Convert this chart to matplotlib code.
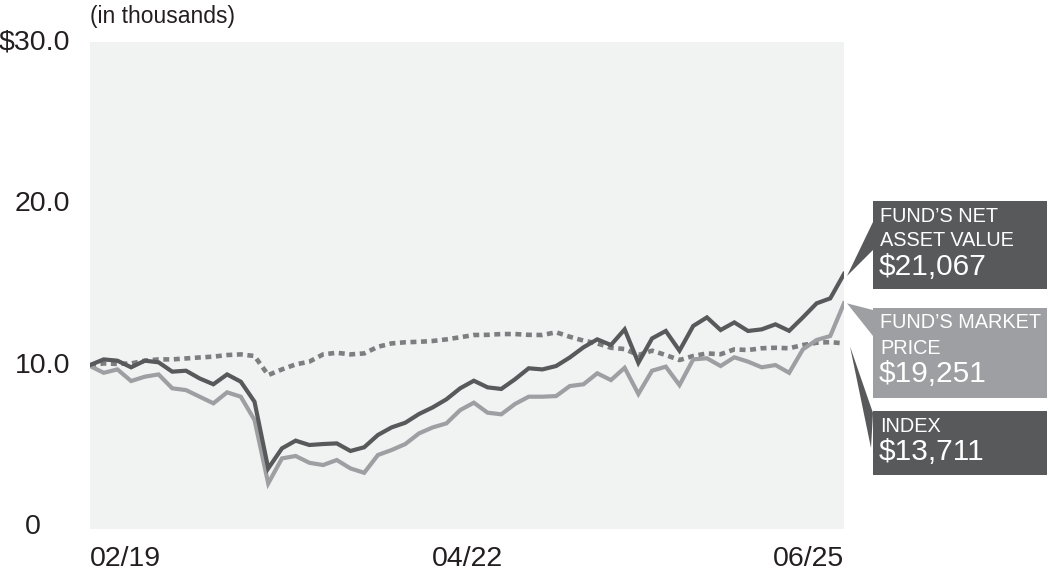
import matplotlib
matplotlib.use("Agg")
import matplotlib.pyplot as plt
from matplotlib.patches import Rectangle, Polygon

# 数据 (in thousands)
nav = [10.03, 10.38, 10.3, 9.89, 10.3, 10.2, 9.62, 9.68, 9.2, 8.84, 9.45, 9.0, 7.76, 3.63,
       4.87, 5.35, 5.08, 5.14, 5.18, 4.71, 4.94, 5.7, 6.17, 6.46, 7.0, 7.41, 7.91, 8.59,
       9.06, 8.65, 8.55, 9.15, 9.83, 9.76, 9.97, 10.5, 11.13, 11.62, 11.27, 12.24, 10.17, 11.68,
       12.14, 10.92, 12.45, 12.98, 12.2, 12.67, 12.14, 12.24, 12.55, 12.15, 12.98, 13.85, 14.16, 15.67]
market = [9.97, 9.55, 9.76, 9.04, 9.31, 9.45, 8.59, 8.48, 8.07, 7.66, 8.34, 8.07, 6.63, 2.7,
          4.25, 4.4, 3.98, 3.84, 4.15, 3.63, 3.36, 4.46, 4.77, 5.14, 5.8, 6.17, 6.42, 7.24,
          7.7, 7.08, 6.98, 7.62, 8.07, 8.07, 8.11, 8.73, 8.84, 9.52, 9.1, 9.86, 8.24, 9.68,
          9.93, 8.79, 10.38, 10.45, 9.97, 10.51, 10.24, 9.89, 10.03, 9.55, 11.0, 11.58, 11.83, 13.85]
index = [10.0, 10.13, 10.1, 10.13, 10.3, 10.38, 10.38, 10.44, 10.5, 10.55, 10.65, 10.69, 10.59, 9.41,
         9.76, 10.07, 10.24, 10.69, 10.79, 10.69, 10.75, 11.16, 11.37, 11.44, 11.47, 11.52, 11.62, 11.75,
         11.89, 11.9, 11.95, 11.95, 11.9, 11.89, 12.06, 11.78, 11.54, 11.37, 11.1, 11.02, 10.65, 10.92,
         10.65, 10.34, 10.59, 10.75, 10.7, 11.0, 10.96, 11.07, 11.1, 11.07, 11.27, 11.41, 11.45, 11.37]

x_labels = ["02/19", "04/22", "06/25"]
y_ticks = [0, 10, 20, 30]
y_labels = ["0", "10.0", "20.0", "$30.0"]

box_titles = [["FUND\u2019S NET", "ASSET VALUE"], ["FUND\u2019S MARKET", "PRICE"], ["INDEX"]]
box_values = ["$21,067", "$19,251", "$13,711"]

DARK = "#58595b"
LIGHT = "#9d9fa2"
DOT = "#7d7e80"
BG = "#f1f2f2"
TXT = "#231f20"

plt.rcParams['font.family'] = ['Liberation Sans', 'DejaVu Sans']

W, H = 1049, 585
fig = plt.figure(figsize=(W / 100, H / 100), dpi=100)
ax = fig.add_axes([90 / W, 1 - 529 / H, (844 - 90) / W, (529 - 42) / H])
ax.set_facecolor(BG)
for s in ax.spines.values():
    s.set_visible(False)

xs = list(range(len(nav)))
ax.plot(xs, index, color=DOT, lw=3.3, linestyle=(0, (1.3, 1.0)), dash_capstyle='butt', zorder=2)
ax.plot(xs, market, color=LIGHT, lw=3.0, solid_joinstyle='miter', zorder=3)
ax.plot(xs, nav, color=DARK, lw=3.0, solid_joinstyle='miter', zorder=4)

ax.set_xlim(0, len(nav) - 1)
ax.set_ylim(-0.12, 30.03)
ax.tick_params(length=0)
ax.set_yticks([])
mid = (len(nav) - 1) / 2
ax.set_xticks([0, mid, len(nav) - 1])
ax.set_xticklabels(x_labels, fontsize=20.5, color=TXT)
for lab, ha in zip(ax.get_xticklabels(), ["left", "center", "right"]):
    lab.set_ha(ha)
ax.tick_params(axis='x', pad=12)

# y 轴标签 (手动放置)
ytr = ax.get_yaxis_transform()
for v, t in zip(y_ticks, y_labels):
    if t == "0":
        ax.text(-0.0756, v, t, transform=ytr, ha='center', va='center', fontsize=20.5, color=TXT)
    else:
        ax.text(-0.0265, v, t, transform=ytr, ha='right', va='center', fontsize=20.5, color=TXT)

fig.text(90 / W, 1 - 17 / H, "(in thousands)", ha='left', va='center', fontsize=16.5, color=TXT)

# 右侧标签框
ov = fig.add_axes([0, 0, 1, 1], zorder=5)
ov.set_xlim(0, W)
ov.set_ylim(H, 0)
ov.axis('off')
ov.patch.set_alpha(0)

fig.canvas.draw()
ends = []
for ser in (nav, market, index):
    px, py = ax.transData.transform((len(ser) - 1, ser[-1]))
    ends.append((px, H - py))

boxes = [(201, 289, DARK), (308, 398, LIGHT), (411, 475, DARK)]
wedges = [((3, 2), (873, 222), (873, 250)),
          ((3, 0), (873, 310), (873, 336)),
          ((6, 3), (873, 413), (871, 448))]
for (top, bot, col) in boxes:
    ov.add_patch(Rectangle((873, top), 1047 - 873, bot - top, color=col, lw=0))
for i, (off, p1, p2) in enumerate(wedges):
    ex, ey = ends[i]
    ov.add_patch(Polygon([(ex + off[0], ey + off[1]), p1, p2], closed=True,
                         color=boxes[i][2], lw=0))

for (top, bot, col), titles, val in zip(boxes, box_titles, box_values):
    y = top + 15
    for t in titles:
        ov.text(880, y, t, ha='left', va='center', fontsize=14.3, color='white')
        y += 25
    ov.text(879, y + 1, val, ha='left', va='center', fontsize=21.5, color='white')

fig.savefig("out.png", dpi=100)
